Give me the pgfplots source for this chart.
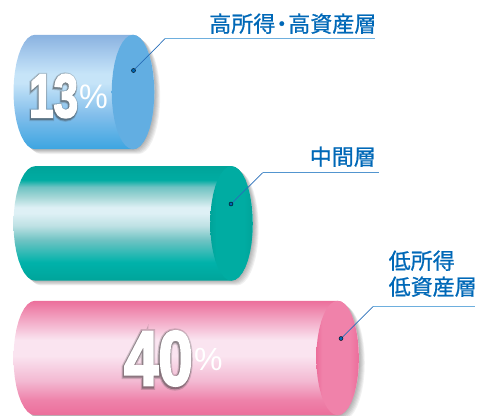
\documentclass[border=0pt]{standalone}
\usepackage{fontspec}
\usepackage{pgfplots}
\usepackage{pgfplotstable}
\pgfplotsset{compat=1.18}
\newfontfamily\cjk[FakeBold=0.8]{Noto Sans CJK JP}
\newfontfamily\heavy[FakeBold=3.4]{Liberation Sans Bold}
\newfontfamily\heavyhalo[FakeBold=6.5]{Liberation Sans Bold}
\newfontfamily\heavywide[FakeBold=10]{Liberation Sans Bold}
\newfontfamily\plain{Liberation Sans}

% Outline of a cylinder, end cap to end cap. u and v are unit offsets around
% an end ellipse; s=1 rows belong to the near end, s=0 rows to the far end.
\pgfplotstableread{
s u v
1 0 -1
1 .1736 -.9848
1 .342 -.9397
1 .5 -.866
1 .6428 -.766
1 .766 -.6428
1 .866 -.5
1 .9397 -.342
1 .9848 -.1736
1 1 0
1 .9848 .1736
1 .9397 .342
1 .866 .5
1 .766 .6428
1 .6428 .766
1 .5 .866
1 .342 .9397
1 .1736 .9848
1 0 1
0 0 1
0 -.1736 .9848
0 -.342 .9397
0 -.5 .866
0 -.6428 .766
0 -.766 .6428
0 -.866 .5
0 -.9397 .342
0 -.9848 .1736
0 -1 0
0 -.9848 -.1736
0 -.9397 -.342
0 -.866 -.5
0 -.766 -.6428
0 -.6428 -.766
0 -.5 -.866
0 -.342 -.9397
0 -.1736 -.9848
0 0 -1
1 0 -1
}\cylinderoutline

\definecolor{labelblue}{RGB}{0,104,183}
\definecolor{leadlight}{RGB}{110,175,222}
\definecolor{leaddark}{RGB}{40,110,185}

\definecolor{aA}{RGB}{138,178,224}
\definecolor{aB}{RGB}{170,205,238}
\definecolor{aC}{RGB}{198,228,248}
\definecolor{aD}{RGB}{130,190,235}
\definecolor{aE}{RGB}{60,165,225}
\definecolor{aF}{RGB}{98,174,226}
\pgfdeclareverticalshading{cylblue}{100bp}{
 color(0bp)=(aE); color(25bp)=(aE); color(40bp)=(aD); color(54bp)=(aC); color(58bp)=(aC);
 color(66bp)=(aB); color(75bp)=(aA); color(100bp)=(aA)}
\pgfdeclarehorizontalshading{capblue}{100bp}{
 color(0bp)=(aF); color(100bp)=(aF)}

\definecolor{bA}{RGB}{0,164,154}
\definecolor{bB}{RGB}{0,172,162}
\definecolor{bC}{RGB}{222,240,245}
\definecolor{bD}{RGB}{165,215,215}
\definecolor{bE}{RGB}{0,178,170}
\definecolor{bF}{RGB}{190,225,228}
\definecolor{bG}{RGB}{110,195,195}
\pgfdeclareverticalshading{cylteal}{100bp}{
 color(0bp)=(bA); color(25bp)=(bA); color(33bp)=(bE); color(42.7bp)=(bG);
 color(49bp)=(bF); color(54.5bp)=(bC); color(57bp)=(bC); color(61.5bp)=(bD);
 color(66bp)=(bG); color(69bp)=(bB); color(75bp)=(bA); color(100bp)=(bA)}
\pgfdeclarehorizontalshading{capteal}{100bp}{
 color(0bp)=(bA); color(25bp)=(bA); color(32bp)=(bB); color(64bp)=(bB);
 color(75bp)=(bA); color(100bp)=(bA)}

\definecolor{cA}{RGB}{236,110,155}
\definecolor{cB}{RGB}{242,165,195}
\definecolor{cC}{RGB}{250,228,240}
\definecolor{cD}{RGB}{243,185,210}
\definecolor{cE}{RGB}{238,130,170}
\definecolor{cF}{RGB}{240,130,170}
\pgfdeclareverticalshading{cylpink}{100bp}{
 color(0bp)=(cA); color(25bp)=(cA); color(31.6bp)=(cE); color(40bp)=(cD); color(51bp)=(cC);
 color(58bp)=(cC); color(67bp)=(cB); color(75bp)=(cA); color(100bp)=(cA)}
\pgfdeclarehorizontalshading{cappink}{100bp}{
 color(0bp)=(cA); color(25bp)=(cA); color(32bp)=(cF); color(64bp)=(cF);
 color(75bp)=(cA); color(100bp)=(cA)}

% #1 near-end centre x, #2 centre y, #3 body shading, #4 cap shading
\newcommand\cylinder[4]{
 \pgfplotsinvokeforeach{1,2,3,4,5,6}{
  \addplot[draw=none,fill=black,fill opacity=0.055,xshift=##1*0.95pt,yshift=-##1*0.8pt]
   table[x expr={35+\thisrow{s}*(#1-35)+21.5*\thisrow{u}},y expr={#2+57.2*\thisrow{v}}]{\cylinderoutline};
 }
 \addplot[draw=none,shade,shading=#3]
  table[x expr={35+\thisrow{s}*(#1-35)+21.5*\thisrow{u}},y expr={#2+57.2*\thisrow{v}}]{\cylinderoutline};
 \addplot[draw=none,shade,shading=#4]
  table[x expr={#1+21.3*\thisrow{u}},y expr={#2+57.2*\thisrow{v}}]{\cylinderoutline};
}

% Large figure over two translucent, thickened copies that make its soft shadow
\newcommand\bigfigure[5]{
 \node[anchor=base west,inner sep=0pt,text=black!75,opacity=0.22,xshift=-0.5pt,yshift=-1pt]
   at (axis cs:#1,#2) {\scalebox{#4}[1]{\heavywide\fontsize{#3}{#3}\selectfont #5}};
 \node[anchor=base west,inner sep=0pt,text=black!75,opacity=0.45,xshift=-0.5pt,yshift=-1pt]
   at (axis cs:#1,#2) {\scalebox{#4}[1]{\heavyhalo\fontsize{#3}{#3}\selectfont #5}};
 \node[anchor=base west,inner sep=0pt,text=white] at (axis cs:#1,#2)
   {\scalebox{#4}[1]{\heavy\fontsize{#3}{#3}\selectfont #5}};
}

\begin{document}
\begin{tikzpicture}
\useasboundingbox (0,0) rectangle (479pt,415pt);
\begin{axis}[
  at={(0,0)},anchor=south west,
  scale only axis,width=479pt,height=415pt,
  xmin=0,xmax=479,ymin=0,ymax=415,y dir=reverse,
  hide axis,clip=true]

\cylinder{133}{92}{cylblue}{capblue}
\cylinder{231.5}{223.4}{cylteal}{capteal}
\cylinder{337.6}{358}{cylpink}{cappink}

% leader lines
\addplot[leadlight,line width=1.3pt] coordinates {(165,38.7)(375,38.7)};
\addplot[leaddark,line width=0.7pt] coordinates {(133.5,70.5)(165,38.7)};
\addplot[leadlight!60!leaddark,line width=1pt] coordinates {(263,172.5)(379,172.5)};
\addplot[leaddark,line width=0.7pt] coordinates {(231,204)(263,172.5)};
\addplot[leadlight,line width=1.2pt] coordinates {(373,306.5)(475,306.5)};
\addplot[leaddark,line width=0.7pt] coordinates {(341,338.5)(373,306.5)};
\addplot[only marks,mark=*,mark size=2pt,mark options={fill=labelblue,draw=none}]
  coordinates {(133.5,70.5)(231,204)(341,338.5)};

\bigfigure{29}{117}{61pt}{0.72}{13}
\node[anchor=base west,inner sep=0pt,text=white] at (axis cs:79,108)
  {\scalebox{0.95}[1]{\plain\fontsize{34pt}{34pt}\selectfont\%}};
\bigfigure{124}{385}{77pt}{0.8}{40}
\node[anchor=base west,inner sep=0pt,text=white] at (axis cs:194,370)
  {\scalebox{1}[1]{\plain\fontsize{32pt}{32pt}\selectfont\%}};

\node[anchor=base east,inner sep=0pt,text=labelblue] at (axis cs:376.5,32)
  {\cjk\fontsize{22pt}{22pt}\selectfont 高所得\hspace{-4.5pt}・\hspace{-4.5pt}高資産層};
\node[anchor=base east,inner sep=0pt,text=labelblue] at (axis cs:376,165)
  {\cjk\fontsize{22pt}{22pt}\selectfont 中間層};
\node[anchor=base west,inner sep=0pt,text=labelblue] at (axis cs:388.5,269)
  {\cjk\fontsize{22pt}{22pt}\selectfont 低所得};
\node[anchor=base west,inner sep=0pt,text=labelblue] at (axis cs:388.5,295)
  {\cjk\fontsize{22pt}{22pt}\selectfont 低資産層};
\end{axis}
\end{tikzpicture}
\end{document}
